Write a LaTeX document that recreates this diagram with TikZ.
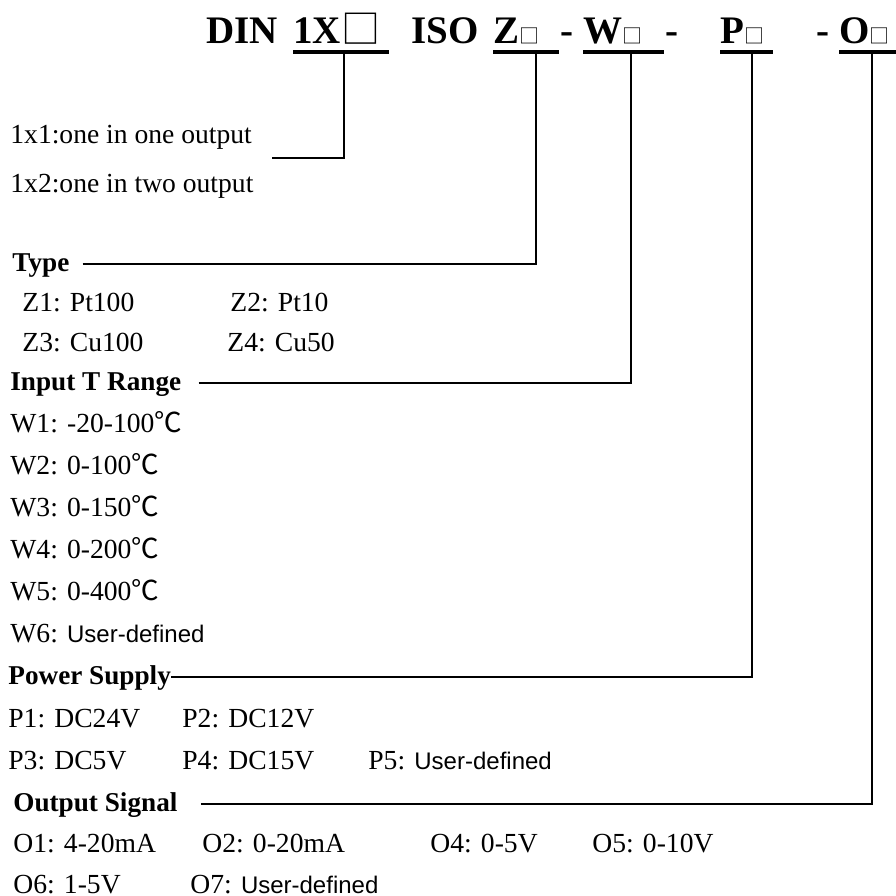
\documentclass[tikz,border=0pt]{standalone}
\usepackage{fontspec}
\setmainfont{Liberation Serif}
\setsansfont{Liberation Sans}
\newfontfamily\cjk{Noto Sans CJK SC}
\usetikzlibrary{positioning}

\newcommand{\caja}[1]{{\cjk\mdseries\fontsize{#1}{#1}\selectfont □}}
\newcommand{\grado}{{\cjk ℃}}
\newcommand{\usuario}{{\sffamily\fontsize{12pt}{14pt}\selectfont User-defined}}

\tikzstyle{codigo}=[inner sep=0pt, anchor=base west, text depth=0pt,
font=\bfseries\fontsize{19.5pt}{22pt}\selectfont]
\tikzstyle{opcion}=[inner sep=0pt, anchor=base west, text height=7.5pt, text depth=0.5pt,
font=\fontsize{13.8pt}{16pt}\selectfont]
\tikzstyle{grupo}=[opcion, font=\bfseries\fontsize{13.6pt}{16pt}\selectfont]
\tikzstyle{enlace}=[draw, line width=0.7pt]
\tikzstyle{raya}=[draw, line width=1.6pt]

\begin{document}
\begin{tikzpicture}[x=0.5pt, y=-0.5pt]
	\useasboundingbox (0,0) rectangle (896,896);
		\node[codigo] (din) at (206,43) {DIN};
		\node[codigo, text width=47.5pt, align=left] (unox) at (293,43) {1X\caja{19.5pt}};
		\node[codigo] (iso) at (411,43) {ISO};
		\node[codigo, text width=32.5pt, align=left] (tipoz) at (493,43) {Z\caja{10pt}};
		\node[codigo] (guion1) at (560,43) {-};
		\node[codigo, text width=40pt, align=left] (rangow) at (583,43) {W\caja{10pt}};
		\node[codigo] (guion2) at (665,43) {-};
		\node[codigo, text width=26pt, align=left] (fuentep) at (720,43) {P\caja{10pt}};
		\node[codigo] (guion3) at (816,43) {-};
		\node[codigo, text width=30pt, align=left] (salidao) at (839,43) {O\caja{10pt}};
		\foreach \n in {unox, tipoz, rangow, fuentep, salidao}
			\draw[raya] ([yshift=-4.25pt]\n.south west) -- ([yshift=-4.25pt]\n.south east);
		\coordinate (tapunox) at (344,53);
		\coordinate (tapz) at (536,53);
		\coordinate (tapw) at (631,53);
		\coordinate (tapp) at (752,53);
		\coordinate (tapo) at (872,53);
		\node[opcion] (uno) at (10,143) {1x1:one in one output};
		\node[opcion] (dos) at (10,192) {1x2:one in two output};
		\coordinate (finuno) at (272,158);
		\node[grupo] (tipo) at (12,271) {Type};
		\node[opcion] (z1) at (22,311) {Z1: Pt100};
		\node[opcion] (z2) at (230,311) {Z2: Pt10};
		\node[opcion] (z3) at (22,351) {Z3: Cu100};
		\node[opcion] (z4) at (227,351) {Z4: Cu50};
		\node[grupo] (rango) at (10,390) {Input T Range};
		\node[opcion] (w1) at (10,432) {W1: -20-100\grado};
		\node[opcion] (w2) at (10,474) {W2: 0-100\grado};
		\node[opcion] (w3) at (10,516) {W3: 0-150\grado};
		\node[opcion] (w4) at (10,558) {W4: 0-200\grado};
		\node[opcion] (w5) at (10,600) {W5: 0-400\grado};
		\node[opcion] (w6) at (10,642) {W6: \usuario};
		\node[grupo] (fuente) at (8,684) {Power Supply};
		\node[opcion] (p1) at (8,727) {P1: DC24V};
		\node[opcion] (p2) at (182,727) {P2: DC12V};
		\node[opcion] (p3) at (8,769) {P3: DC5V};
		\node[opcion] (p4) at (182,769) {P4: DC15V};
		\node[opcion] (p5) at (368,769) {P5: \usuario};
		\node[grupo] (salida) at (13,811) {Output Signal};
		\node[opcion] (o1) at (13,852) {O1: 4-20mA};
		\node[opcion] (o2) at (202,852) {O2: 0-20mA};
		\node[opcion] (o4) at (430,852) {O4: 0-5V};
		\node[opcion] (o5) at (592,852) {O5: 0-10V};
		\node[opcion] (o6) at (13,893) {O6: 1-5V};
		\node[opcion] (o7) at (190,893) {O7: \usuario};
		\draw[enlace] (tapunox) |- (finuno);
		\draw[enlace] ([xshift=6.5pt]tipo.east) -| (tapz);
		\draw[enlace] ([xshift=8.5pt]rango.east) -| (tapw);
		\draw[enlace] (fuente.east) -| (tapp);
		\draw[enlace] ([xshift=11.5pt]salida.east) -| (tapo);
	\end{tikzpicture}
\end{document}
